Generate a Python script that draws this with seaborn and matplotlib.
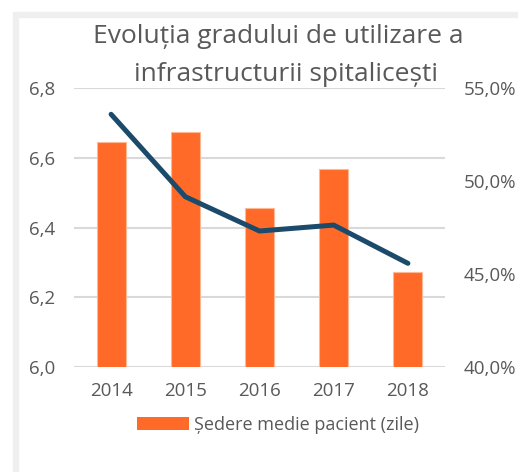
import numpy as np
import pandas as pd
import matplotlib
matplotlib.use("Agg")
import matplotlib.pyplot as plt
import seaborn as sns
from matplotlib.patches import Rectangle, Patch
from matplotlib.ticker import FuncFormatter

# data
years = ["2014", "2015", "2016", "2017", "2018"]
sedere_medie = [6.645, 6.673, 6.457, 6.568, 6.272]       # average stay (days), left axis
grad_utilizare = [53.6, 49.16, 47.31, 47.63, 45.57]      # utilisation (%), right axis
left_ticks = [6.0, 6.2, 6.4, 6.6, 6.8]
right_ticks = [40, 45, 50, 55]

df = pd.DataFrame({"an": years, "sedere": sedere_medie, "grad": grad_utilizare})

sns.set_style("white")
plt.rcParams["font.family"] = ["Open Sans", "DejaVu Sans"]

text_col = "#595959"
bar_col = "#FF6A28"
line_col = "#1B4A6B"
grid_col = "#D9D9D9"

fig = plt.figure(figsize=(5.18, 4.72), dpi=100)
fig.patch.set_facecolor("white")

# light grey frame around the chart area (runs off the right/bottom edge)
fig.patches.append(Rectangle((16 / 518, -0.1), 1.2, (472 - 15) / 472 + 0.1,
                             transform=fig.transFigure, fill=False,
                             edgecolor="#EFEFEF", linewidth=4.5, zorder=0))

ax = fig.add_axes([74 / 518, (472 - 366.7) / 472, (445 - 74) / 518, (366.7 - 88.3) / 472])
ax.set_facecolor("none")

sns.barplot(data=df, x="an", y="sedere", color=bar_col, width=0.39,
            edgecolor="#FFB894", linewidth=0.8, saturation=1, ax=ax)
ax.set_ylim(6.0, 6.8)
ax.set_xlim(-0.5, 4.5)
ax.set_yticks(left_ticks)
ax.yaxis.set_major_formatter(FuncFormatter(lambda v, p: f"{v:.1f}".replace(".", ",")))
ax.yaxis.grid(True, color=grid_col, linewidth=1.5)
ax.set_axisbelow(True)
ax.set_xlabel("")
ax.set_ylabel("")
for s in ax.spines.values():
    s.set_visible(False)
ax.tick_params(axis="both", length=0, labelsize=13.5, labelcolor=text_col)
ax.tick_params(axis="y", pad=13.5)
ax.tick_params(axis="x", pad=11)

ax2 = ax.twinx()
sns.lineplot(data=df, x="an", y="grad", color=line_col, linewidth=3.6,
             solid_capstyle="round", ax=ax2)
ax2.set_ylim(40, 55)
ax2.set_yticks(right_ticks)
ax2.yaxis.set_major_formatter(FuncFormatter(lambda v, p: f"{v:.1f}%".replace(".", ",")))
ax2.set_ylabel("")
for s in ax2.spines.values():
    s.set_visible(False)
ax2.tick_params(axis="y", length=0, labelsize=13.5, labelcolor=text_col, pad=13.5)

# title
fig.text(278.5 / 518, (472 - 43) / 472, "Evoluția gradului de utilizare a", ha="center", va="baseline",
         fontsize=19, color=text_col)
fig.text(286 / 518, (472 - 81) / 472, "infrastructurii spitalicești", ha="center", va="baseline",
         fontsize=19, color=text_col)

# legend (bars only)
fig.legend(handles=[Patch(facecolor=bar_col, edgecolor="none")],
           labels=["Ședere medie pacient (zile)"],
           loc="center", bbox_to_anchor=(278 / 518, (472 - 425) / 472),
           frameon=False, fontsize=13, labelcolor=text_col,
           handlelength=2.9, handleheight=0.7, handletextpad=0.3)

fig.savefig("out.png", dpi=100)
